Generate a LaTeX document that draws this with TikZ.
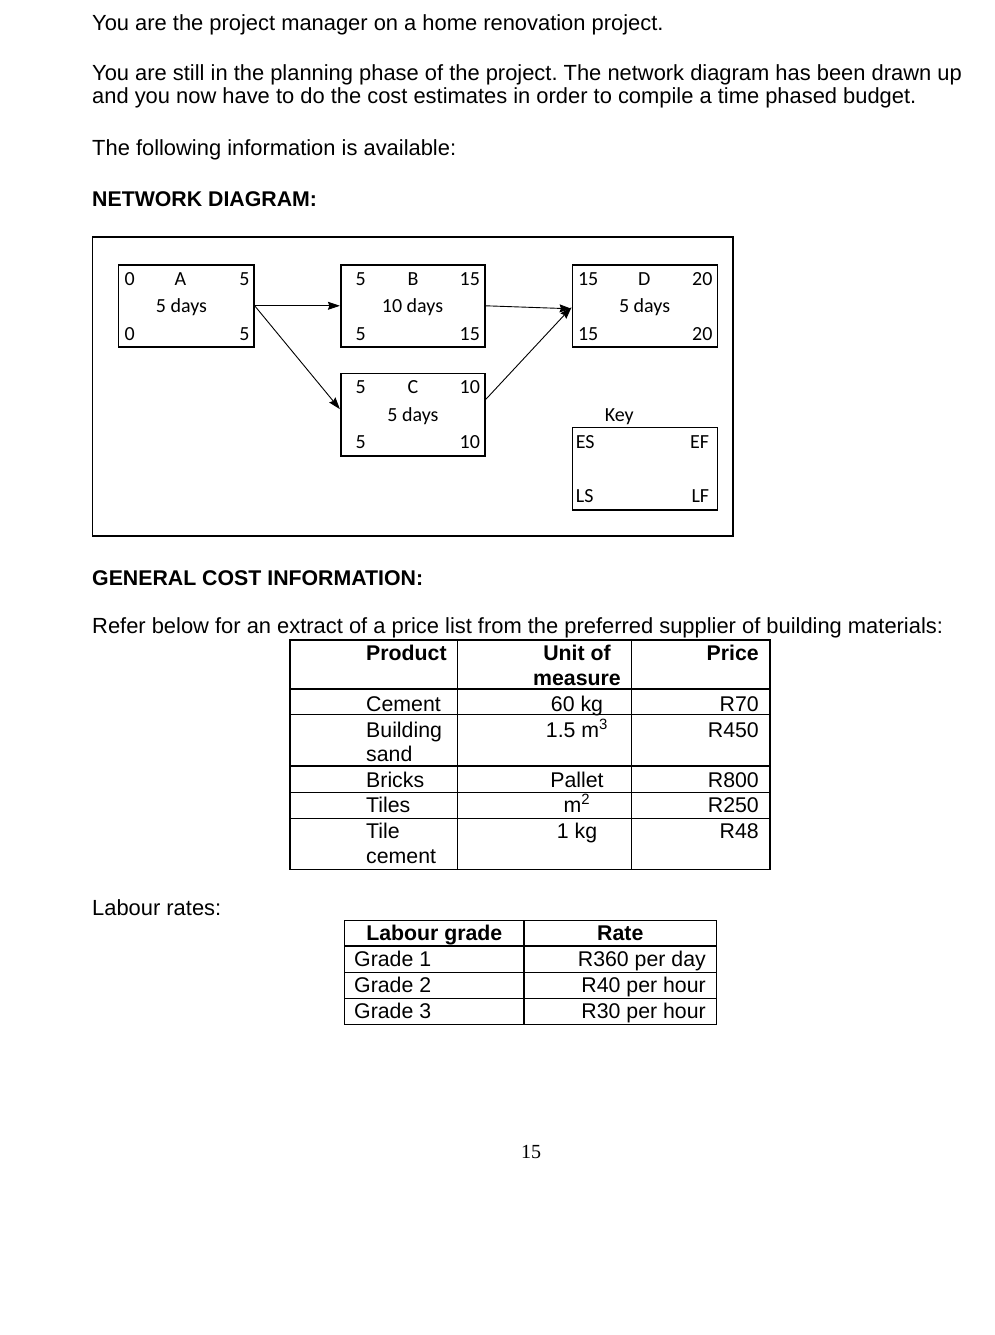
\documentclass[tikz,border=0pt]{standalone}
\usepackage{fontspec}
\setmainfont{Liberation Sans}
\newfontfamily\calfont{Carlito}
\newfontfamily\timesfont{Liberation Serif}
\usetikzlibrary{arrows.meta}
\frenchspacing
\begin{document}
\begin{tikzpicture}[x=1pt,y=-1pt,
  body/.style={inner sep=0pt, font=\fontsize{21.3}{25}\selectfont},
  intro/.style={inner sep=0pt, font=\fontsize{21.9}{25}\selectfont},
  bodyb/.style={inner sep=0pt, font=\bfseries\fontsize{21.3}{25}\selectfont},
  netbox/.style={draw, line width=1.6pt, anchor=north west, inner sep=0pt, minimum height=82pt},
  nt/.style={inner sep=0pt, font=\calfont\fontsize{20}{23}\selectfont},
  arr/.style={line width=0.9pt, -{Stealth[length=12pt,width=8pt,inset=1.5pt]}},
  tline/.style={line width=1.2pt}]
\useasboundingbox[fill=white] (0,0) rectangle (995,1335);

% ---- intro text ----
\node[intro, anchor=base west] (t1) at (92,30.7) {You are the project manager on a home renovation project.};
\node[intro, anchor=base west] (t2) at (92,80.5) {You are still in the planning phase of the project. The network diagram has been drawn up};
\node[intro, anchor=base west] (t3) at (92,104) {and you now have to do the cost estimates in order to compile a time phased budget.};
\node[intro, anchor=base west] (t4) at (92,155) {The following information is available:};
\node[bodyb, anchor=base west] (t5) at (92,206.3) {NETWORK DIAGRAM:};

% ---- network diagram ----
\draw[line width=1.6pt] (92.5,237) rectangle (733,536);
\node[netbox, minimum width=135.3pt] (A) at (117.8,264) {};
\node[netbox, minimum width=144.5pt] (B) at (339.9,264) {};
\node[netbox, minimum width=145.3pt] (D) at (571.5,264) {};
\node[netbox, minimum width=144.5pt, minimum height=82.3pt] (C) at (339.9,372.7) {};
\node[netbox, minimum width=145.3pt, minimum height=82.3pt] (K) at (571.5,426.7) {};

% A
\node[nt, anchor=base west] (a1) at (124.5,285) {0};
\node[nt, anchor=base] (a2) at (180.5,285) {A};
\node[nt, anchor=base east] (a3) at (249.8,285) {5};
\node[nt, anchor=base] (a4) at (181.5,312.7) {5 days};
\node[nt, anchor=base west] (a5) at (124.5,340) {0};
\node[nt, anchor=base east] (a6) at (249.8,340) {5};
% B
\node[nt, anchor=base east] (b1) at (366,285) {5};
\node[nt, anchor=base] (b2) at (413,285) {B};
\node[nt, anchor=base east] (b3) at (480.2,285) {15};
\node[nt, anchor=base] (b4) at (412.5,312.7) {10 days};
\node[nt, anchor=base east] (b5) at (366,340) {5};
\node[nt, anchor=base east] (b6) at (480.2,340) {15};
% D
\node[nt, anchor=base west] (d1) at (577.8,285) {15};
\node[nt, anchor=base] (d2) at (644.2,285) {D};
\node[nt, anchor=base east] (d3) at (712.7,285) {20};
\node[nt, anchor=base] (d4) at (644.6,312.7) {5 days};
\node[nt, anchor=base west] (d5) at (577.8,340) {15};
\node[nt, anchor=base east] (d6) at (712.7,340) {20};
% C
\node[nt, anchor=base east] (c1) at (366,393.7) {5};
\node[nt, anchor=base] (c2) at (413,393.7) {C};
\node[nt, anchor=base east] (c3) at (480.2,393.7) {10};
\node[nt, anchor=base] (c4) at (413,421) {5 days};
\node[nt, anchor=base east] (c5) at (366,448.7) {5};
\node[nt, anchor=base east] (c6) at (480.2,448.7) {10};
% Key
\node[nt, anchor=base] (k0) at (619.3,421.7) {Key};
\node[nt, anchor=base west] (k1) at (575.7,448.7) {ES};
\node[nt, anchor=base east] (k2) at (709.3,448.7) {EF};
\node[nt, anchor=base west] (k3) at (575.7,502.7) {LS};
\node[nt, anchor=base east] (k4) at (709.3,502.7) {LF};

% arrows
\draw[arr] (A.east) -- (B.west);
\draw[arr] (A.east) -- ([yshift=5.5pt]C.west);
\draw[arr] (B.east) -- ([yshift=-3pt]D.west);
\draw[arr] ([yshift=15.5pt]C.east) -- ([yshift=-1.5pt]D.west);

% ---- cost info ----
\node[bodyb, anchor=base west] (g1) at (92,585.6) {GENERAL COST INFORMATION:};
\node[intro, anchor=base west] (g2) at (92,633) {Refer below for an extract of a price list from the preferred supplier of building materials:};

% table 1
\draw[tline] (290,640) rectangle (770,869.3);
\draw[tline] (457.3,640) -- (457.3,869.3);
\draw[tline] (631.7,640) -- (631.7,869.3);
\foreach \yy in {689,714.3,766,792.3,818.3} \draw[tline] (290,\yy) -- (770,\yy);

\node[bodyb, anchor=base west] (p0) at (366,660) {Product};
\node[body, anchor=base west] (p1) at (366,711) {Cement};
\node[body, anchor=base west] (p2) at (366,737) {Building};
\node[body, anchor=base west] (p3) at (366,761.5) {sand};
\node[body, anchor=base west] (p4) at (366,787) {Bricks};
\node[body, anchor=base west] (p5) at (366,812.5) {Tiles};
\node[body, anchor=base west] (p6) at (366,838.5) {Tile};
\node[body, anchor=base west] (p7) at (366,863) {cement};

\node[bodyb, anchor=base] (u0) at (577,660) {Unit of};
\node[bodyb, anchor=base] (u0b) at (577,685) {measure};
\node[body, anchor=base] (u1) at (577,711) {60 kg};
\node[body, anchor=base] (u2) at (577,737) {1.5 m\textsuperscript{3}};
\node[body, anchor=base] (u4) at (577,787) {Pallet};
\node[body, anchor=base] (u5) at (577,812.5) {m\textsuperscript{2}};
\node[body, anchor=base] (u6) at (577,838.5) {1 kg};

\node[bodyb, anchor=base east] (r0) at (759,660) {Price};
\node[body, anchor=base east] (r1) at (759,711) {R70};
\node[body, anchor=base east] (r2) at (759,737) {R450};
\node[body, anchor=base east] (r4) at (759,787) {R800};
\node[body, anchor=base east] (r5) at (759,812.5) {R250};
\node[body, anchor=base east] (r6) at (759,838.5) {R48};

% labour
\node[intro, anchor=base west] (l0) at (92,915) {Labour rates:};
\draw[tline] (344.3,920.7) rectangle (716.7,1024.3);
\draw[tline] (524,920.7) -- (524,1024.3);
\foreach \yy in {946,972.3,998.3} \draw[tline] (344.3,\yy) -- (716.7,\yy);
\node[bodyb, anchor=base] (lh1) at (434.3,940.7) {Labour grade};
\node[bodyb, anchor=base] (lh2) at (620.3,940.7) {Rate};
\node[body, anchor=base west] (lg1) at (354,966.7) {Grade 1};
\node[body, anchor=base west] (lg2) at (354,992.7) {Grade 2};
\node[body, anchor=base west] (lg3) at (354,1018.3) {Grade 3};
\node[body, anchor=base east] (lr1) at (706,966.7) {R360 per day};
\node[body, anchor=base east] (lr2) at (706,992.7) {R40 per hour};
\node[body, anchor=base east] (lr3) at (706,1018.3) {R30 per hour};

% page number
\node[inner sep=0pt, anchor=base, font=\timesfont\fontsize{20}{24}\selectfont] (pg) at (531,1158.3) {15};
\end{tikzpicture}
\end{document}
